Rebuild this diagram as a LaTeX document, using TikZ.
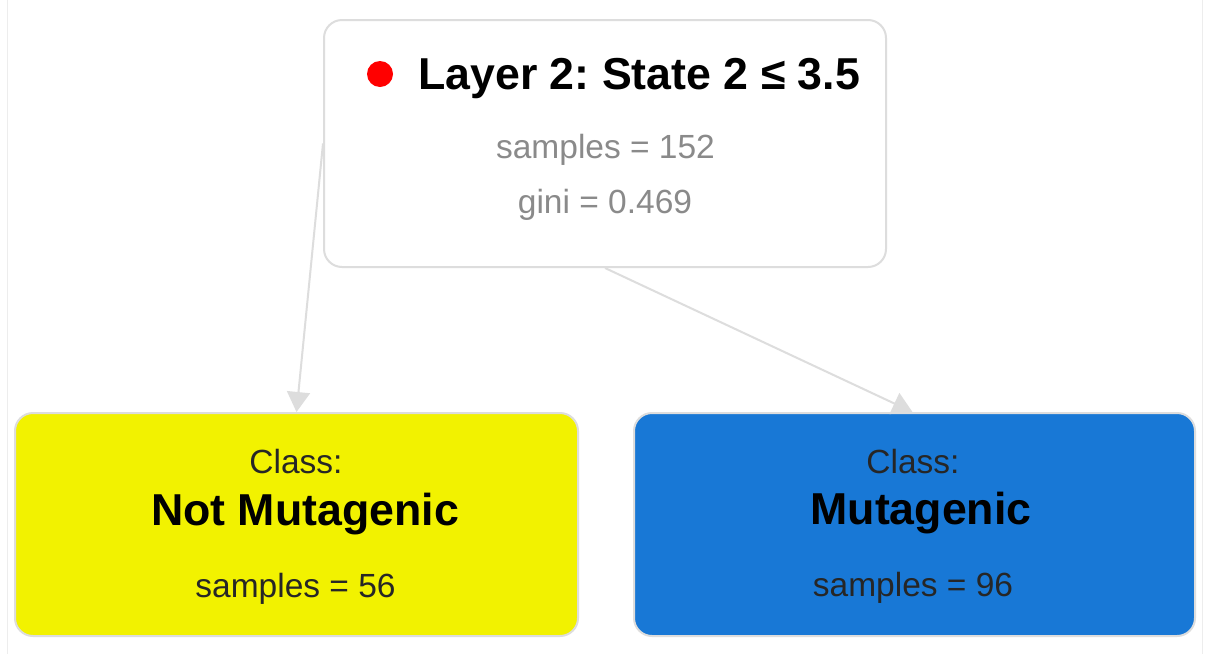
\documentclass[tikz,border=0pt]{standalone}
\usepackage{fontspec}
\setmainfont{Liberation Sans}
\usepackage{tikz}
\usetikzlibrary{arrows.meta}
\usetikzlibrary{positioning}
\definecolor{boxline}{HTML}{DDDDDD}
\definecolor{infogray}{HTML}{8A8A8A}
\definecolor{leafyellow}{HTML}{F2F200}
\definecolor{leafblue}{HTML}{1878D6}
\definecolor{leaftext}{HTML}{262626}
\frenchspacing
\tikzset{
  treebox/.style={rectangle,rounded corners=18pt,draw=boxline,line width=2pt,inner sep=0pt},
  bigtxt/.style={anchor=base,inner sep=0pt,font=\fontsize{44.7}{54}\selectfont\bfseries},
  smalltxt/.style={anchor=base,inner sep=0pt,font=\fontsize{33.5}{40}\selectfont},
  treeedge/.style={draw=boxline,line width=2pt,-{Triangle[length=20pt,width=23pt]}}
}
\begin{document}
\begin{tikzpicture}[x=1pt,y=-1pt]
\useasboundingbox[fill=white] (0,0) rectangle (1212,654);
\draw[color=black!7,line width=1pt] (7,0) -- (7,654);
\draw[color=black!7,line width=1pt] (1202,0) -- (1202,654);
% boxes
\node[treebox,fill=white,minimum width=562pt,minimum height=247pt](root) at (605,143.5){};
\node[treebox,fill=leafyellow,minimum width=563pt,minimum height=223pt](notmut) at (296.5,524.5){};
\node[treebox,fill=leafblue,minimum width=561pt,minimum height=223pt](mut) at (914.5,524.5){};
% root text
\node[circle,fill=red,minimum size=26pt,inner sep=0pt](dot) at (380,74){};
\node[bigtxt,anchor=base west](split) at (418,89){Layer 2: State 2 ≤ 3.5};
\node[smalltxt,text=infogray](rootsamples) at (605.5,158){samples = 152};
\node[smalltxt,text=infogray](rootgini) at (605,213){gini = 0.469};
% leaf text
\node[smalltxt,text=leaftext](classa) at (296,473){Class:};
\node[bigtxt,text=black](namea) at (305,525){Not Mutagenic};
\node[smalltxt,text=leaftext](samplesa) at (295.5,597){samples = 56};
\node[smalltxt,text=leaftext](classb) at (913,473){Class:};
\node[bigtxt,text=black](nameb) at (921,524){Mutagenic};
\node[smalltxt,text=leaftext](samplesb) at (913,596){samples = 96};
% edges
\draw[treeedge] (root.west) -- (notmut.north);
\draw[treeedge] (root.south) -- ([xshift=-2pt]mut.north);
\end{tikzpicture}
\end{document}
